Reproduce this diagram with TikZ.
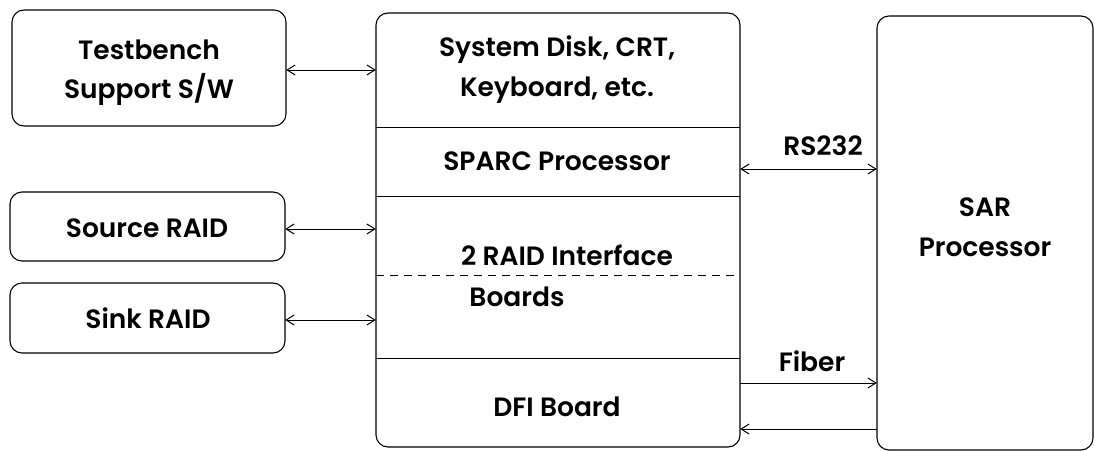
\documentclass[tikz,border=0pt]{standalone}
\usepackage{fontspec}
\setmainfont{Poppins}[UprightFont=* SemiBold, BoldFont=* Bold]
\usetikzlibrary{arrows.meta}
\begin{document}
\begin{tikzpicture}[x=1pt,y=-1pt,
  box/.style={draw,line width=1.1pt,rounded corners=12pt},
  lbl/.style={font=\fontsize{26.5}{30}\selectfont, inner sep=0pt, anchor=center},
  conn/.style={line width=1pt,{Straight Barb[length=8pt,width=10pt]}-{Straight Barb[length=8pt,width=10pt]}},
  one/.style={line width=1pt,-{Straight Barb[length=8pt,width=10pt]}},
  sep/.style={line width=1pt}]
\useasboundingbox (0,0) rectangle (1094,452);
% left boxes
\draw[box] (12,10) rectangle (286,126);
\node[draw=none,minimum width=274pt,minimum height=116pt] (tb) at (149,68) {};
\draw[box] (10,192) rectangle (285,261);
\node[draw=none,minimum width=275pt,minimum height=69pt] (src) at (147.5,226.5) {};
\draw[box] (10,283) rectangle (285,353);
\node[draw=none,minimum width=275pt,minimum height=70pt] (snk) at (147.5,318) {};
% middle box
\draw[box] (376,13) rectangle (740,447);
\node[draw=none,minimum width=364pt,minimum height=434pt] (mid) at (558,230) {};
% SAR box
\draw[box] (877,16) rectangle (1093,450);
\node[draw=none,minimum width=216pt,minimum height=434pt] (sar) at (985,233) {};
% separators
\coordinate (s1l) at (376,127); \coordinate (s1r) at (740,127);
\coordinate (s2l) at (376,196); \coordinate (s2r) at (740,196);
\coordinate (s3l) at (376,275); \coordinate (s3r) at (740,275);
\coordinate (s4l) at (376,358); \coordinate (s4r) at (740,358);
\draw[sep] (s1l) -- (s1r);
\draw[sep] (s2l) -- (s2r);
\draw[sep,dashed,dash pattern=on 8pt off 6pt] (s3l) -- (s3r);
\draw[sep] (s4l) -- (s4r);
% texts
\node[lbl] (t1) at (149,50) {Testbench};
\node[lbl] (t2) at (149,89) {Support S/W};
\node[lbl] (t3) at (147,228) {Source RAID};
\node[lbl] (t4) at (148,318) {Sink RAID};
\node[lbl] (t5) at (557,50) {System Disk, CRT,};
\node[lbl] (t6) at (557,90) {Keyboard, etc.};
\node[lbl] (t7) at (557,161) {SPARC Processor};
\node[lbl] (t8) at (567,255) {2 RAID Interface};
\node[lbl] (t9) at (517,297) {Boards};
\node[lbl] (t10) at (557,407) {DFI Board};
\node[lbl] (t11) at (985,207) {SAR};
\node[lbl] (t12) at (985,247) {Processor};
\node[lbl] (t13) at (823,146) {RS232};
\node[lbl] (t14) at (812,361) {Fiber};
% connectors
\draw[conn] (tb.east |- 0,70) -- (mid.west |- 0,70);
\draw[conn] (src.east |- 0,229) -- (mid.west |- 0,229);
\draw[conn] (snk.east |- 0,320) -- (mid.west |- 0,320);
\draw[conn] (mid.east |- 0,169) -- (sar.west |- 0,169);
\draw[one] (mid.east |- 0,383) -- (sar.west |- 0,383);
\draw[one] (sar.west |- 0,429) -- (mid.east |- 0,429);
\end{tikzpicture}
\end{document}
